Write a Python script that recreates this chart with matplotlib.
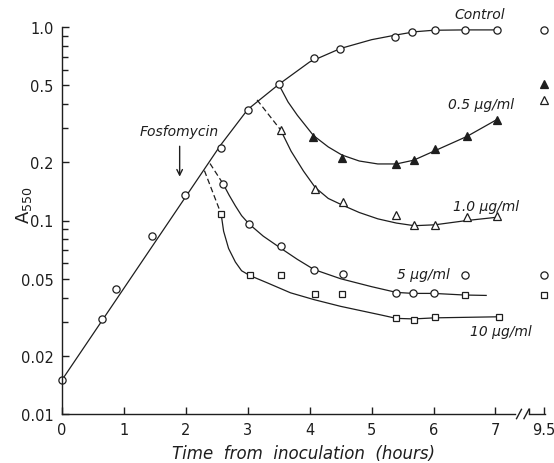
import numpy as np
import matplotlib
matplotlib.use('Agg')
import matplotlib.pyplot as plt
from matplotlib.ticker import FixedLocator, NullFormatter

# measured points (hours, A550); 9.5 h is drawn after the axis break
ctrl_t = [0, 0.64, 0.87, 1.46, 1.98, 2.56, 3.0, 3.5, 4.07, 4.49, 5.37, 5.66, 6.02, 6.51, 7.03, 9.5]
ctrl_a = [0.015, 0.031, 0.044, 0.083, 0.135, 0.237, 0.371, 0.505, 0.695, 0.774, 0.887, 0.947, 0.966, 0.966, 0.966, 0.966]

f05_t = [4.06, 4.52, 5.4, 5.68, 6.03, 6.54, 7.02, 9.5]
f05_a = [0.27, 0.211, 0.196, 0.206, 0.233, 0.274, 0.332, 0.51]

f10_t = [3.53, 4.09, 4.53, 5.4, 5.69, 6.02, 6.54, 7.03, 9.5]
f10_a = [0.294, 0.146, 0.125, 0.107, 0.095, 0.095, 0.104, 0.105, 0.42]

f5_t = [2.6, 3.02, 3.53, 4.07, 4.53, 5.4, 5.67, 6.0, 6.5, 9.5]
f5_a = [0.155, 0.096, 0.074, 0.0555, 0.0527, 0.042, 0.042, 0.042, 0.052, 0.052]

f100_t = [2.57, 3.03, 3.53, 4.09, 4.52, 5.4, 5.68, 6.02, 6.5, 7.06, 9.5]
f100_a = [0.108, 0.052, 0.052, 0.0417, 0.0417, 0.0312, 0.0306, 0.0316, 0.0412, 0.0318, 0.0414]

# hand-drawn curves
ctrl_fit_t = [0, 2.56, 3.0, 3.5, 4.0, 4.5, 5.0, 5.4, 5.7, 6.0, 6.5, 7.03]
ctrl_fit_a = [0.015, 0.245, 0.375, 0.505, 0.66, 0.775, 0.86, 0.91, 0.945, 0.962, 0.966, 0.966]
f05_fit_t = [3.5, 3.65, 3.8, 4.06, 4.3, 4.52, 4.8, 5.1, 5.4, 5.68, 6.03, 6.54, 7.02]
f05_fit_a = [0.505, 0.41, 0.35, 0.275, 0.24, 0.218, 0.203, 0.196, 0.196, 0.205, 0.23, 0.272, 0.332]
f10_fit_t = [3.53, 3.7, 3.9, 4.09, 4.3, 4.53, 4.8, 5.1, 5.4, 5.69, 6.02, 6.54, 7.03]
f10_fit_a = [0.294, 0.228, 0.18, 0.148, 0.13, 0.12, 0.11, 0.102, 0.097, 0.094, 0.095, 0.1, 0.104]
f5_fit_t = [2.6, 2.7, 2.8, 2.9, 3.02, 3.25, 3.53, 3.8, 4.07, 4.5, 5.0, 5.4, 5.67, 6.0, 6.5, 6.85]
f5_fit_a = [0.155, 0.135, 0.119, 0.106, 0.096, 0.083, 0.072, 0.063, 0.0558, 0.05, 0.0455, 0.0425, 0.042, 0.042, 0.0412, 0.041]
f100_fit_t = [2.57, 2.61, 2.69, 2.8, 2.9, 3.03, 3.31, 3.69, 4.07, 4.5, 5.15, 5.4, 5.68, 6.02, 7.06]
f100_fit_a = [0.108, 0.088, 0.0717, 0.061, 0.055, 0.052, 0.0477, 0.0423, 0.039, 0.036, 0.0325, 0.0312, 0.031, 0.0314, 0.0318]

# dashed lead-ins from the control curve
f10_dash_t = [3.15, 3.53]
f10_dash_a = [0.42, 0.294]
f5_dash_t = [2.39, 2.6]
f5_dash_a = [0.197, 0.155]
f100_dash_t = [2.3, 2.57]
f100_dash_a = [0.181, 0.108]

BREAK_POS = 7.78  # where 9.5 h sits on the drawn axis


def xp(t):
    t = np.asarray(t, dtype=float)
    return np.where(t > 8, t - 9.5 + BREAK_POS, t)


fig = plt.figure(figsize=(5.54, 4.64), dpi=100)
ax = fig.add_axes([62 / 554, 49 / 464, 483 / 554, 387 / 464])
ax.set_yscale('log')
ax.set_xlim(0, 7.80)
ax.set_ylim(0.01, 1.0)

lc = '#1e1e1e'
lw = 0.9
ms = 5.2

# curves
for t, a in [(ctrl_fit_t, ctrl_fit_a), (f05_fit_t, f05_fit_a), (f10_fit_t, f10_fit_a),
             (f5_fit_t, f5_fit_a), (f100_fit_t, f100_fit_a)]:
    ax.plot(xp(t), a, color=lc, lw=lw)
for t, a in [(f10_dash_t, f10_dash_a), (f5_dash_t, f5_dash_a), (f100_dash_t, f100_dash_a)]:
    ax.plot(xp(t), a, color=lc, lw=lw, ls=(0, (4.5, 2.5)))

# points
ax.plot(xp(ctrl_t), ctrl_a, 'o', ms=ms, mfc='white', mec=lc, mew=0.9, clip_on=False)
ax.plot(xp(f05_t), f05_a, '^', ms=ms + 0.5, mfc=lc, mec=lc, mew=0.9, clip_on=False)
ax.plot(xp(f10_t), f10_a, '^', ms=ms + 0.5, mfc='white', mec=lc, mew=0.9, clip_on=False)
ax.plot(xp(f5_t), f5_a, 'o', ms=ms, mfc='white', mec=lc, mew=0.9, clip_on=False)
ax.plot(xp(f100_t), f100_a, 's', ms=ms - 0.4, mfc='white', mec=lc, mew=0.9, clip_on=False)

# axes styling
for s in ['top', 'right']:
    ax.spines[s].set_visible(False)
ax.spines['left'].set_linewidth(1.0)
ax.spines['bottom'].set_linewidth(1.0)
ax.spines['left'].set_color(lc)
ax.spines['bottom'].set_color(lc)
ax.spines['bottom'].set_bounds(0, 7.32)

yticks = [0.01, 0.02, 0.05, 0.1, 0.2, 0.5, 1.0]
ylabels = ['0.01', '0.02', '0.05', '0.1', '0.2', '0.5', '1.0']
yminor = [0.03, 0.04, 0.06, 0.07, 0.08, 0.09, 0.3, 0.4, 0.6, 0.7, 0.8, 0.9]
ax.yaxis.set_major_locator(FixedLocator(yticks))
ax.set_yticklabels(ylabels)
ax.yaxis.set_minor_locator(FixedLocator(yminor))
ax.yaxis.set_minor_formatter(NullFormatter())

xticks = [0, 1, 2, 3, 4, 5, 6, 7, BREAK_POS]
xlabels = ['0', '1', '2', '3', '4', '5', '6', '7', '9.5']
ax.set_xticks(xticks)
ax.set_xticklabels(xlabels)
ax.xaxis.set_minor_locator(FixedLocator([7.54]))

ax.tick_params(axis='both', which='major', direction='in', length=5, width=1.0,
               color=lc, labelsize=10.5, labelcolor=lc)
ax.tick_params(axis='both', which='minor', direction='in', length=4, width=1.0, color=lc)
ax.tick_params(axis='y', pad=6)
ax.tick_params(axis='x', pad=6)

# short axis piece after the break, plus the break marks
xtr = ax.get_xaxis_transform()
ax.plot([7.54, 7.80], [0, 0], transform=xtr, color=lc, lw=1.0, clip_on=False)
for bx in [7.38, 7.50]:
    ax.plot([bx - 0.04, bx + 0.04], [-0.012, 0.012], transform=xtr, color=lc, lw=1.0, clip_on=False)

# labels
ax.set_xlabel('Time  from  inoculation  (hours)', fontsize=12, style='italic', color=lc, labelpad=5)
fig.text(24 / 554, 1 - 205 / 464, r'$\mathsf{A}_{\mathsf{550}}$', rotation=90, fontsize=13,
         ha='center', va='center', color=lc)

tk = dict(fontsize=10, style='italic', color=lc, ha='center', va='center')
ax.text(6.75, 1.17, 'Control', clip_on=False, **tk)
ax.text(6.76, 0.40, '0.5 µg/ml', **tk)
ax.text(6.85, 0.119, '1.0 µg/ml', **tk)
ax.text(5.83, 0.0527, '5 µg/ml', **tk)
ax.text(7.08, 0.0268, '10 µg/ml', **tk)

ax.text(1.9, 0.29, 'Fosfomycin', **tk)
ax.annotate('', xy=(1.9, 0.163), xytext=(1.9, 0.25),
            arrowprops=dict(arrowstyle='->', color=lc, lw=1.0))

fig.savefig('out.png', dpi=100)
